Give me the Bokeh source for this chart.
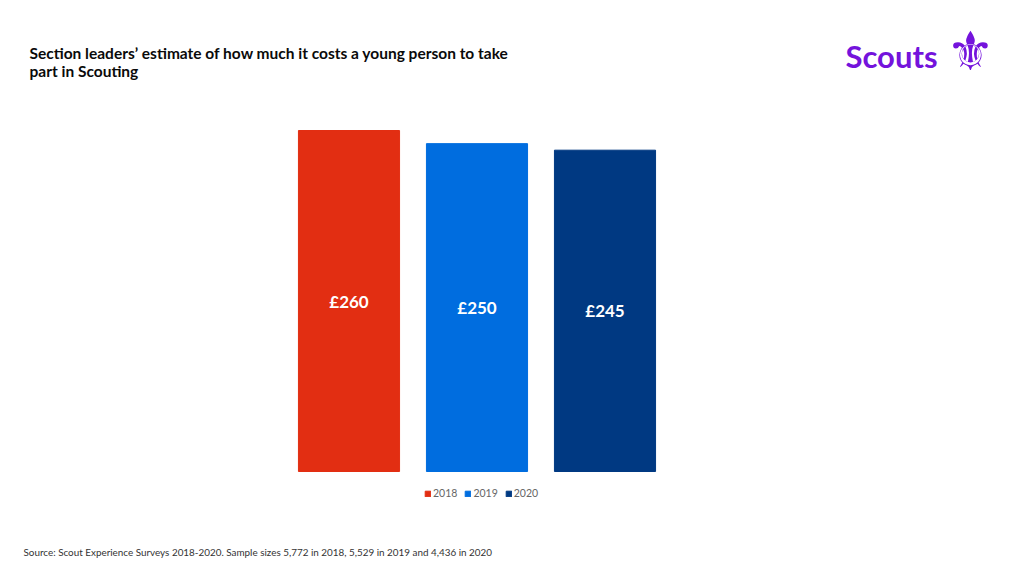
from bokeh.plotting import figure
from bokeh.models import ColumnDataSource, LabelSet, Label, Legend, LegendItem, Range1d
from bokeh.core.properties import value
from bokeh.embed import file_html
from bokeh.resources import INLINE

years = ["2018", "2019", "2020"]
costs = [260, 250, 245]
cost_labels = ["£260", "£250", "£245"]
colors = ["#e22e12", "#006ddf", "#003982"]

title_line1 = "Section leaders’ estimate of how much it costs a young person to take"
title_line2 = "part in Scouting"
source_text = "Source: Scout Experience Surveys 2018-2020. Sample sizes 5,772 in 2018, 5,529 in 2019 and 4,436 in 2020"

W, H = 1008, 560
src = ColumnDataSource(dict(
    pos=list(range(len(years))), years=years, costs=costs,
    half=[c / 2 for c in costs], labels=cost_labels, colors=colors,
))

# frame spans the whole canvas; scales chosen so the bars sit where the reference has them
px_per_cat = 128.0
px_per_unit = 1.3115
x0 = -348.5 / px_per_cat
y0 = -(H - 471) / px_per_unit
p = figure(width=W, height=H, output_backend="svg", toolbar_location=None,
           x_range=Range1d(x0, x0 + W / px_per_cat),
           y_range=Range1d(y0, y0 + H / px_per_unit),
           min_border=0)
p.outline_line_color = None
p.xaxis.visible = False
p.yaxis.visible = False
p.xgrid.visible = False
p.ygrid.visible = False

r = p.vbar(x="pos", top="costs", width=0.79, color="colors", source=src)

p.add_layout(LabelSet(x="pos", y="half", text="labels", source=src,
                      text_align="center", text_baseline="middle",
                      text_color="white", text_font=value("Lato"), text_font_style="bold",
                      text_font_size="17px"))

leg = Legend(items=[LegendItem(label=y, renderers=[r], index=i) for i, y in enumerate(years)],
             orientation="horizontal", location=(424, H - 499),
             glyph_width=7, glyph_height=7, label_text_font_size="10.5px",
             label_text_font="Lato", label_text_color="#666666",
             spacing=7, label_standoff=2, padding=0, margin=0,
             border_line_color=None, background_fill_alpha=0)
p.add_layout(leg)


def lab(px, py, text, **kw):
    p.add_layout(Label(x=px, y=H - py, x_units="screen", y_units="screen",
                       text=text, text_baseline="middle", **kw))


lab(29, 52, title_line1, text_font="Lato", text_font_style="bold",
    text_font_size="15.5px", text_color="#0a0a0a")
lab(29, 70, title_line2, text_font="Lato", text_font_style="bold",
    text_font_size="15.5px", text_color="#0a0a0a")
lab(23, 551, source_text, text_font="Lato", text_font_size="9.9px", text_color="#333333")
lab(845, 55, "Scouts", text_font="Lato", text_font_style="bold",
    text_font_size="31px", text_color="#7413dc")
lab(970, 51, "⚜", text_font="DejaVu Sans", text_font_size="54px",
    text_color="#7413dc", text_align="center")

open("out.html", "w").write(file_html(p, INLINE))
